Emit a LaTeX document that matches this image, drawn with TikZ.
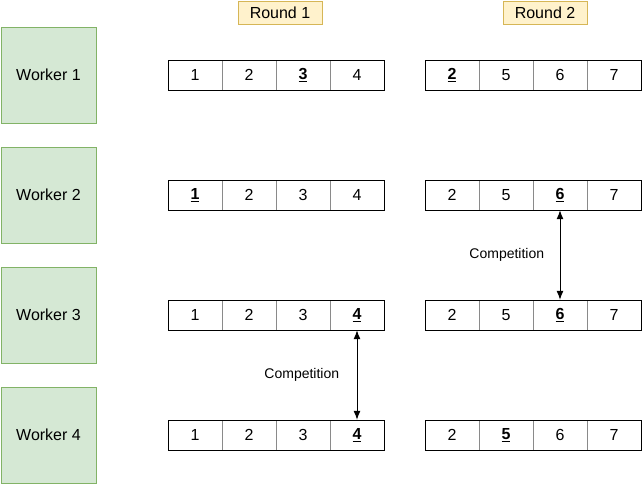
\documentclass[tikz,border=0pt]{standalone}
\usepackage{fontspec}
\setmainfont{Liberation Sans}
\usepackage{tikz}
\usetikzlibrary{arrows.meta}

\definecolor{workerfill}{HTML}{D5E8D4}
\definecolor{workerline}{HTML}{82B366}
\definecolor{roundfill}{HTML}{FFF2CC}
\definecolor{roundline}{HTML}{D6B656}
\definecolor{cellline}{HTML}{8A8A8A}

\newcommand{\hit}[1]{\underline{\textbf{#1}}}

\tikzset{
  worker/.style={draw=workerline,fill=workerfill,minimum width=95pt,minimum height=96pt,inner sep=0pt,font=\fontsize{16}{19}\selectfont},
  roundbox/.style={draw=roundline,fill=roundfill,minimum width=84pt,minimum height=23pt,inner sep=0pt,font=\fontsize{16}{19}\selectfont},
  cell/.style={draw=cellline,minimum width=54pt,minimum height=30pt,inner sep=0pt,font=\fontsize{16}{19}\selectfont},
  label/.style={font=\fontsize{14}{17}\selectfont},
  compete/.style={{Latex[length=9pt,width=7pt]}-{Latex[length=9pt,width=7pt]},line width=1pt}
}

\begin{document}
\begin{tikzpicture}[x=1pt,y=-1pt]
\useasboundingbox (0,0) rectangle (642,485);
\node[roundbox] (round1) at (280,12.5) {Round 1};
\node[roundbox] (round2) at (545,12.5) {Round 2};
\foreach \w/\y/\a/\b/\c/\d/\e/\f/\g/\h in {1/75/1/2/\hit{3}/4/\hit{2}/5/6/7,2/195/\hit{1}/2/3/4/2/5/\hit{6}/7,3/315/1/2/3/\hit{4}/2/5/\hit{6}/7,4/435/1/2/3/\hit{4}/2/\hit{5}/6/7}{
  \node[worker] (worker\w) at (48.5,\y) {Worker \w};
  \node[cell] (a\w-1) at (195,\y) {\a};
  \node[cell] (a\w-2) at (249,\y) {\b};
  \node[cell] (a\w-3) at (303,\y) {\c};
  \node[cell] (a\w-4) at (357,\y) {\d};
  \node[cell] (b\w-1) at (452,\y) {\e};
  \node[cell] (b\w-2) at (506,\y) {\f};
  \node[cell] (b\w-3) at (560,\y) {\g};
  \node[cell] (b\w-4) at (614,\y) {\h};
  \draw[black] (a\w-1.north west) rectangle (a\w-4.south east);
  \draw[black] (b\w-1.north west) rectangle (b\w-4.south east);
}
\draw[compete] (a3-4.south) -- (a4-4.north) node[midway,label,left=14pt] {Competition};
\draw[compete] (b2-3.south) -- (b3-3.north) node[midway,label,left=12pt] {Competition};
\end{tikzpicture}
\end{document}
